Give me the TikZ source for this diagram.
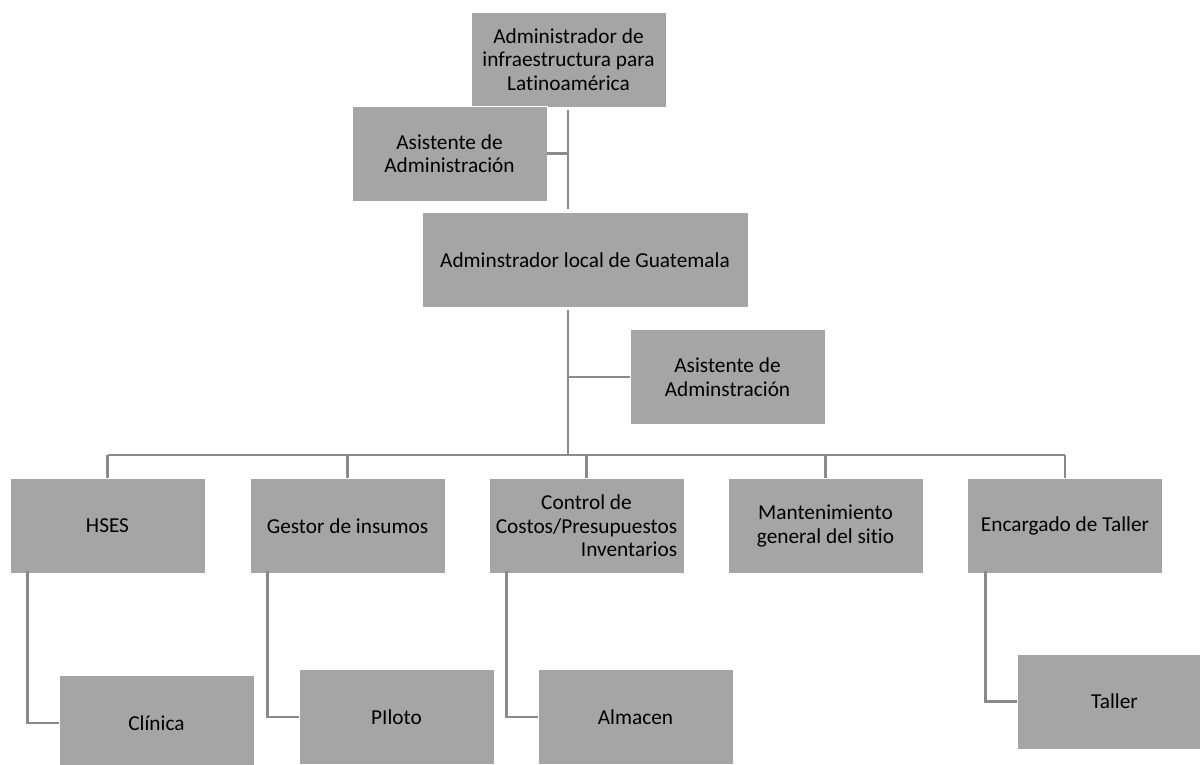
\documentclass[tikz,border=0pt]{standalone}
\usepackage{calc}
\usepackage{fontspec}
\setmainfont{Carlito}[Ligatures=NoCommon]
\begin{document}
\begin{tikzpicture}[x=1pt,y=-1pt,
  box/.style={rectangle, fill=boxgray, draw=white, line width=0.8pt,
    minimum width=195pt, minimum height=95pt, inner sep=2pt,
    align=center, font=\fontsize{21.3}{23.5}\selectfont},
  link/.style={draw=linkgray, line width=2.8pt}]
\definecolor{boxgray}{HTML}{A5A5A5}
\definecolor{linkgray}{HTML}{8A8A8A}
\useasboundingbox (0,0) rectangle (1200,765);

% upper levels
\node[box] (top) at (568.5,59.5) {Administrador de\\infraestructura para\\Latinoamérica};
\node[box] (asst1) at (449.5,153.5) {Asistente de\\Administración};
\node[box, minimum width=326pt] (local) at (585,260) {Adminstrador local de Guatemala};
\node[box] (asst2) at (727.5,377) {Asistente de\\Adminstración};

% departments
\node[box] (hses) at (107.5,526) {HSES};
\node[box] (gestor) at (347.5,526) {Gestor de insumos};
\node[box] (control) at (586.5,526) {Control de\\Costos/Presupuestos\\\makebox[\widthof{Costos/Presupuestos}][r]{Inventarios}};
\node[box] (mant) at (825.5,526) {Mantenimiento\\general del sitio};
\node[box] (taller0) at (1065,526) {Encargado de Taller};

% sub-units
\node[box] (clinica) at (156.5,723) {Clínica};
\node[box] (piloto) at (396.5,717) {PIloto};
\node[box] (almacen) at (635.5,717) {Almacen};
\node[box] (taller) at (1114.5,701.5) {Taller};

% spine and bus
\coordinate (s1) at (568,110);
\coordinate (s2) at (568,209);
\coordinate (s3) at (568,310);
\coordinate (bus) at (568,455);
\coordinate (busL) at (107.5,455);
\coordinate (busR) at (1065,455);

\draw[link] (s1) -- (s2);
\draw[link] (asst1.east) -- (asst1.east -| s1);
\draw[link] (s3) -- (bus);
\draw[link] (asst2.west) -- (asst2.west -| s3);
\draw[link] (busL) -- (busR);
\foreach \n in {hses,gestor,control,mant,taller0}
  \draw[link] (\n.north |- bus) -- (\n.north);

% elbows to sub-units
\draw[link] ([xshift=18pt,yshift=3pt]hses.south west) |- (clinica.west);
\draw[link] ([xshift=18pt,yshift=3pt]gestor.south west) |- (piloto.west);
\draw[link] ([xshift=18pt,yshift=3pt]control.south west) |- (almacen.west);
\draw[link] ([xshift=18pt,yshift=3pt]taller0.south west) |- (taller.west);
\end{tikzpicture}
\end{document}
